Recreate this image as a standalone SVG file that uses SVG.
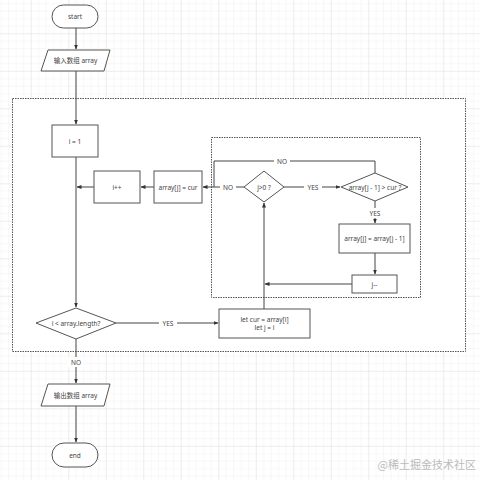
<svg xmlns="http://www.w3.org/2000/svg" width="480" height="480" viewBox="0 0 480 480">
<defs>
<pattern id="minor" width="7.5" height="7.5" patternUnits="userSpaceOnUse" x="0.8" y="0.8">
<path d="M7.5 0V7.5M0 7.5H7.5" fill="none" stroke="#f0f0f0" stroke-width="1"/>
</pattern>
<pattern id="major" width="37.5" height="37.5" patternUnits="userSpaceOnUse" x="30.8" y="33.3">
<rect width="37.5" height="37.5" fill="url(#minor)"/>
<path d="M0 0V37.5M0 0H37.5" fill="none" stroke="#e2e2e2" stroke-width="1"/>
</pattern>
<marker id="arr" viewBox="0 0 10 10" refX="9" refY="5" markerWidth="5" markerHeight="5" orient="auto-start-reverse" markerUnits="userSpaceOnUse">
<path d="M0 1L10 5L0 9z" fill="#333"/>
</marker>
</defs>
<style>
.n{fill:#fff;stroke:#555;stroke-width:1}
.c{fill:none;stroke:#444;stroke-width:1}
.t{font-family:"Noto Sans","Noto Sans CJK SC",sans-serif;font-size:6.5px;fill:#444;text-anchor:middle;dominant-baseline:central}
.l{font-family:"Noto Sans","Noto Sans CJK SC",sans-serif;font-size:6.5px;fill:#444;text-anchor:middle;dominant-baseline:central}
.box{fill:#fff;stroke:#555;stroke-width:1;stroke-dasharray:1.5 1}
</style>
<rect width="480" height="480" fill="#fff"/>
<rect width="480" height="480" fill="url(#major)"/>
<rect class="box" x="12.5" y="98.5" width="453" height="253"/>
<rect class="box" x="211.5" y="137.5" width="209" height="160"/>
<g id="connectors">
<path class="c" d="M76 28V49" marker-end="url(#arr)"/>
<path class="c" d="M76 71V124" marker-end="url(#arr)"/>
<path class="c" d="M76 157V307" marker-end="url(#arr)"/>
<path class="c" d="M94 187H77" marker-end="url(#arr)"/>
<path class="c" d="M154 187H141" marker-end="url(#arr)"/>
<path class="c" d="M244 187H203" marker-end="url(#arr)"/>
<path class="c" d="M284 187H340" marker-end="url(#arr)"/>
<path class="c" d="M375 173V161H214V187"/>
<path class="c" d="M375 201V223" marker-end="url(#arr)"/>
<path class="c" d="M375 253V274" marker-end="url(#arr)"/>
<path class="c" d="M352 284H265" marker-end="url(#arr)"/>
<path class="c" d="M264 309V203" marker-end="url(#arr)"/>
<path class="c" d="M116 323H218" marker-end="url(#arr)"/>
<path class="c" d="M76 339V383" marker-end="url(#arr)"/>
<path class="c" d="M76 406V442" marker-end="url(#arr)"/>
<rect x="220" y="182" width="16" height="10" fill="#fff"/>
<text class="l" x="228" y="187">NO</text>
<rect x="304" y="182" width="18" height="10" fill="#fff"/>
<text class="l" x="313" y="187">YES</text>
<rect x="274" y="156" width="16" height="10" fill="#fff"/>
<text class="l" x="282" y="161">NO</text>
<rect x="366" y="208" width="18" height="10" fill="#fff"/>
<text class="l" x="375" y="213">YES</text>
<rect x="159" y="318" width="18" height="10" fill="#fff"/>
<text class="l" x="168" y="323">YES</text>
<rect x="68" y="357" width="16" height="10" fill="#fff"/>
<text class="l" x="76" y="362">NO</text>
</g>
<g id="start"><rect class="n" x="52" y="5" width="46" height="23" rx="11.5"/><text class="t" x="75" y="16.5">start</text></g>
<g id="input"><path class="n" d="M48 50H110L104 71H41Z"/><text class="t" x="75.5" y="60.5">输入数组 array</text></g>
<g id="init"><rect class="n" x="52" y="125" width="46" height="32"/><text class="t" x="75" y="141">i = 1</text></g>
<g id="incr"><rect class="n" x="94" y="171" width="46" height="32"/><text class="t" x="117" y="187">i++</text></g>
<g id="assign"><rect class="n" x="154" y="171" width="48" height="32"/><text class="t" x="178" y="187">array[j] = cur</text></g>
<g id="jcheck"><path class="n" d="M264 171L284 187L264 202L244 187Z"/><text class="t" x="264" y="187">j&gt;0 ?</text></g>
<g id="cmp"><path class="n" d="M375 173L408 187L375 201L341 187Z"/><text class="t" x="375" y="187">array[j - 1] &gt; cur ?</text></g>
<g id="shift"><rect class="n" x="339" y="224" width="71" height="29"/><text class="t" x="374.5" y="238.5">array[j] = array[j - 1]</text></g>
<g id="dec"><rect class="n" x="352" y="275" width="45" height="18"/><text class="t" x="374.5" y="284">j--</text></g>
<g id="cond"><path class="n" d="M76 308L116 323L76 339L36 323Z"/><text class="t" x="76" y="323">i &lt; array.length?</text></g>
<g id="letcur"><rect class="n" x="219" y="309" width="91" height="29"/><text class="t" x="264.5" y="319.5">let cur = array[i]</text><text class="t" x="264.5" y="327.5">let j = i</text></g>
<g id="output"><path class="n" d="M48 384H110L104 406H41Z"/><text class="t" x="75.5" y="395">输出数组 array</text></g>
<g id="end"><rect class="n" x="52" y="443" width="46" height="24" rx="12"/><text class="t" x="75" y="455">end</text></g>
<text x="476" y="469" font-family="Noto Sans CJK SC, sans-serif" font-size="11" fill="#bbb" text-anchor="end">@稀土掘金技术社区</text>
</svg>
